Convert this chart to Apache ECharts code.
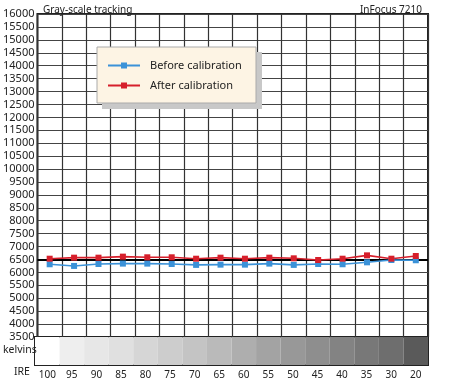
<!DOCTYPE html>
<html>
<head>
<meta charset="utf-8">
<script src="https://cdn.jsdelivr.net/npm/echarts@6/dist/echarts.min.js"></script>
<style>html,body{margin:0;padding:0;background:#fff}#c{width:450px;height:380px}</style>
</head>
<body>
<div id="c"></div>
<script>
const categories = ['100','95','90','85','80','75','70','65','60','55','50','45','40','35','30','20'];
const beforeValues = [6315,6250,6325,6340,6340,6325,6290,6300,6300,6340,6290,6325,6315,6390,6480,6470];
const afterValues = [6530,6570,6570,6610,6585,6585,6530,6570,6530,6570,6545,6480,6530,6660,6530,6635];
const grayLevels = [255,238,231,224,214,205,196,186,174,163,152,142,131,120,110,90];
const targetKelvin = 6500;

const font = 'Noto Sans';
const legendIcon = 'path://M0,6L13,6L13,4L19,4L19,6L32,6L32,8L19,8L19,10L13,10L13,8L0,8Z';
const chart = echarts.init(document.getElementById('c'));
chart.setOption({
  animation: false,
  backgroundColor: '#fff',
  textStyle: { fontFamily: font },
  title: [
    { text: 'Gray-scale tracking', left: 38, top: 0, textStyle: { fontSize: 10, fontWeight: 'normal', color: '#222', fontFamily: font } },
    { text: 'InFocus 7210', right: 23, top: 0, textStyle: { fontSize: 10, fontWeight: 'normal', color: '#222', fontFamily: font } }
  ],
  graphic: [
    { type: 'rect', z: 5, shape: { x: 102, y: 52, width: 160, height: 57 }, style: { fill: '#c8c8c8' } },
    { type: 'rect', z: 6, shape: { x: 97, y: 47, width: 159, height: 56 }, style: { fill: '#fdf4e4', stroke: '#aaa', lineWidth: 1 } },
    { type: 'text', z: 6, left: 3, top: 345, style: { text: 'kelvins', fontSize: 10.5, fill: '#222', fontFamily: font } },
    { type: 'text', z: 6, left: 14, top: 367, style: { text: 'IRE', fontSize: 10.5, fill: '#222', fontFamily: font } }
  ],
  legend: {
    z: 10,
    orient: 'vertical',
    left: 108, top: 60, padding: 0,
    itemWidth: 32, itemHeight: 14, itemGap: 9,
    itemStyle: { borderWidth: 0 },
    textStyle: { fontSize: 11, color: '#222', fontFamily: font, padding: [0,0,0,5] },
    data: [
      { name: 'Before calibration', icon: legendIcon, itemStyle: { color: '#3b92d8' } },
      { name: 'After calibration', icon: legendIcon, itemStyle: { color: '#d61f2b' } }
    ]
  },
  grid: [
    { left: 35, top: 14, width: 393, height: 323, show: true, borderColor: '#222', borderWidth: 2 },
    { left: 35, top: 337, width: 393, height: 28, show: true, borderColor: '#222', borderWidth: 2 }
  ],
  xAxis: [
    { type: 'category', gridIndex: 0, data: categories, boundaryGap: true,
      axisLine: { show: false }, axisTick: { show: false }, axisLabel: { show: false },
      splitLine: { show: true, interval: 0, lineStyle: { color: '#333', width: 1.2 } } },
    { type: 'category', gridIndex: 1, data: categories, boundaryGap: true,
      axisLine: { show: false }, axisTick: { show: false },
      axisLabel: { show: true, interval: 0, margin: 5, fontSize: 10, color: '#222', fontFamily: font },
      splitLine: { show: false } }
  ],
  yAxis: [
    { type: 'value', gridIndex: 0, min: 3500, max: 16000, interval: 500,
      axisLine: { show: false }, axisTick: { show: false },
      axisLabel: { fontSize: 11, color: '#222', margin: 3, fontFamily: font, formatter: v => String(v) },
      splitLine: { lineStyle: { color: '#444', width: 1.2 } } },
    { type: 'value', gridIndex: 1, min: 0, max: 1, show: false, splitLine: { show: false } }
  ],
  series: [
    { name: 'Before calibration', type: 'line', xAxisIndex: 0, yAxisIndex: 0, data: beforeValues,
      symbol: 'rect', symbolSize: 6, z: 4,
      lineStyle: { color: '#3b92d8', width: 1.6 }, itemStyle: { color: '#3b92d8' },
      markLine: { silent: true, symbol: 'none', label: { show: false }, z: 3,
        lineStyle: { color: '#000', width: 2, type: 'solid' }, data: [{ yAxis: targetKelvin }] } },
    { name: 'After calibration', type: 'line', xAxisIndex: 0, yAxisIndex: 0, data: afterValues,
      symbol: 'rect', symbolSize: 6, z: 4,
      lineStyle: { color: '#d61f2b', width: 1.6 }, itemStyle: { color: '#d61f2b' } },
    { name: 'strip', type: 'bar', xAxisIndex: 1, yAxisIndex: 1, barWidth: '100%', silent: true,
      data: grayLevels.map(g => ({ value: 1, itemStyle: { color: 'rgb(' + g + ',' + g + ',' + g + ')' } })) }
  ]
});
</script>
</body>
</html>
